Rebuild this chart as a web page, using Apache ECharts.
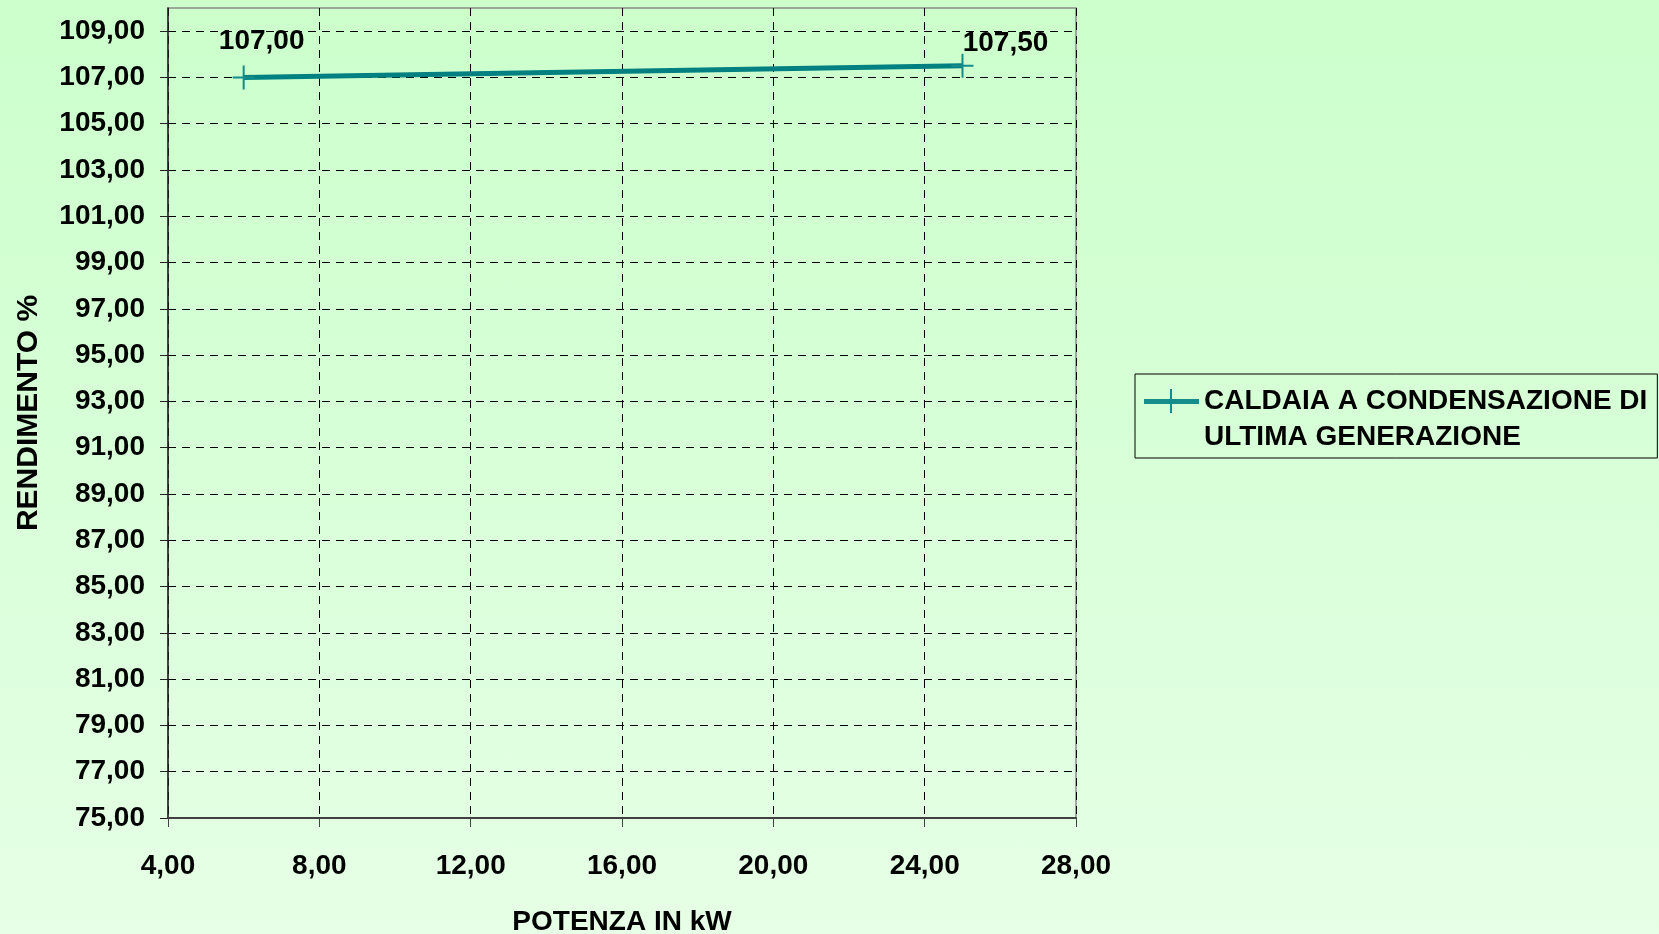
<!DOCTYPE html>
<html>
<head>
<meta charset="utf-8">
<title>Rendimento caldaia</title>
<script src="https://cdn.jsdelivr.net/npm/echarts@6/dist/echarts.min.js"></script>
<style>
  html, body {
    margin: 0;
    padding: 0;
  }
  #chart {
    width: 1659px;
    height: 934px;
    background: linear-gradient(to bottom, #ccffcc 0%, #d8ffd8 50%, #e6ffe6 100%);
  }
</style>
</head>
<body>
<div id="chart"></div>
<script>
// dati
const serieNome = "CALDAIA A CONDENSAZIONE DI\nULTIMA GENERAZIONE";
const potenzaKw = [6, 25];
const rendimento = [107.0, 107.5];
// spostamento delle etichette dati
const labelOffsets = [[18, -10], [43, 3]];
const yTicks = [75, 77, 79, 81, 83, 85, 87, 89, 91, 93, 95, 97, 99, 101, 103, 105, 107, 109];

const font = "'Liberation Sans', Arial, sans-serif";
const teal = "#008080";

// virgola decimale all'italiana
const fmt = (v) => Number(v).toFixed(2).replace(".", ",");

const punti = potenzaKw.map((x, i) => ({
  value: [x, rendimento[i]],
  label: { offset: labelOffsets[i] },
}));

const option = {
  animation: false,
  textStyle: { fontFamily: font },
  grid: {
    left: 168,
    right: 583,
    top: 8,
    bottom: 116,
    outerBoundsMode: "none",
    containLabel: false,
    show: true,
    borderColor: "#8c8c8c",
    borderWidth: 1.5,
    backgroundColor: "transparent",
  },
  legend: {
    left: 1135,
    top: 374,
    orient: "vertical",
    padding: [9, 10, 3, 9],
    borderColor: "#000",
    borderWidth: 1,
    itemWidth: 55,
    itemHeight: 72,
    icon: "path://M0,0 M0,72 M0,16 L55,16 L55,21 L0,21 Z M26,6 L28,6 L28,30 L26,30 Z",
    textStyle: {
      fontFamily: font,
      fontSize: 28,
      fontWeight: "bold",
      color: "#000",
      lineHeight: 36,
    },
    data: [serieNome],
  },
  xAxis: {
    type: "value",
    min: 4,
    max: 28,
    interval: 4,
    name: "POTENZA IN kW",
    nameLocation: "middle",
    nameGap: 90,
    nameTextStyle: { fontFamily: font, fontSize: 28, fontWeight: "bold", color: "#000" },
    axisLine: { show: true, lineStyle: { color: "#404040", width: 2 } },
    axisTick: { show: true, inside: false, length: 9, lineStyle: { color: "#404040", width: 1 } },
    axisLabel: {
      margin: 34,
      fontFamily: font,
      fontSize: 28,
      fontWeight: "bold",
      color: "#000",
      formatter: fmt,
    },
    splitLine: { show: true, lineStyle: { color: "#000", width: 1, type: [8, 6] } },
  },
  yAxis: {
    type: "value",
    min: 75,
    max: 110,
    name: "RENDIMENTO %",
    nameLocation: "middle",
    nameRotate: 90,
    nameGap: 124,
    nameTextStyle: { fontFamily: font, fontSize: 30, fontWeight: "bold", color: "#000" },
    axisLine: { show: true, lineStyle: { color: "#222", width: 1.5 } },
    axisTick: { show: true, inside: false, length: 8, customValues: yTicks, lineStyle: { color: "#222", width: 1 } },
    axisLabel: {
      margin: 23,
      customValues: yTicks,
      fontFamily: font,
      fontSize: 28,
      fontWeight: "bold",
      color: "#000",
      formatter: fmt,
    },
    splitLine: { show: true, lineStyle: { color: "#000", width: 1, type: [8, 6] } },
  },
  series: [
    {
      name: serieNome,
      type: "line",
      data: punti,
      color: teal,
      lineStyle: { color: teal, width: 5 },
      symbol: "path://M10,0 L12,0 L12,24 L10,24 Z M0,11 L22,11 L22,13 L0,13 Z",
      symbolSize: [22, 24],
      itemStyle: { color: "#148c8c" },
      label: {
        show: true,
        position: "top",
        distance: 0,
        fontFamily: font,
        fontSize: 28,
        fontWeight: "bold",
        color: "#000",
        formatter: (p) => fmt(p.value[1]),
      },
      z: 5,
    },
  ],
};

const myChart = echarts.init(document.getElementById("chart"), null, { renderer: "canvas" });
myChart.setOption(option);
</script>
</body>
</html>
